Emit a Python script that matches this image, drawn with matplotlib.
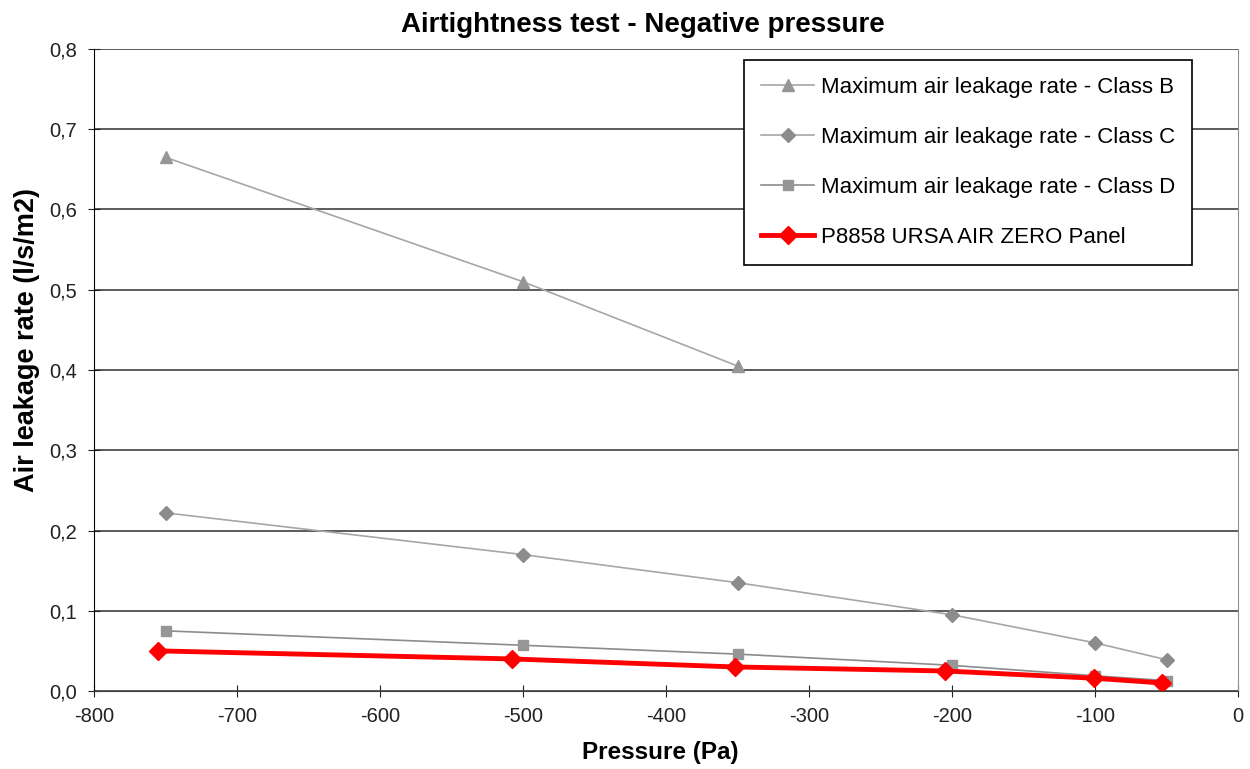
import matplotlib
matplotlib.use('Agg')
import matplotlib.pyplot as plt

plt.rcParams['font.family'] = ['Liberation Sans', 'DejaVu Sans']
plt.rcParams['axes.unicode_minus'] = False

# pressure (Pa) and leakage (l/s/m2)
p_class_b = [-750, -500, -350]
class_b = [0.665, 0.510, 0.405]
p_class = [-750, -500, -350, -200, -100, -50]
class_c = [0.222, 0.170, 0.135, 0.095, 0.060, 0.039]
class_d = [0.075, 0.057, 0.046, 0.032, 0.019, 0.013]
p_panel = [-755, -508, -352, -205, -101, -53]
panel = [0.050, 0.040, 0.030, 0.025, 0.016, 0.010]

fig = plt.figure(figsize=(12.5, 7.69), dpi=100)
ax = fig.add_axes([0.0752, 0.1014, 0.9152, 0.8349])

ax.plot(p_class_b, class_b, color='#a6a6a6', lw=1.2, marker='^', ms=9,
        mfc='#969696', mec='#969696', label='Maximum air leakage rate - Class B')
ax.plot(p_class, class_c, color='#a6a6a6', lw=1.2, marker='D', ms=7,
        mfc='#8c8c8c', mec='#8c8c8c', label='Maximum air leakage rate - Class C')
ax.plot(p_class, class_d, color='#8c8c8c', lw=1.2, marker='s', ms=7.5,
        mfc='#969696', mec='#969696', label='Maximum air leakage rate - Class D')
ax.plot(p_panel, panel, color='#ff0000', lw=3.5, marker='D', ms=9,
        label='P8858 URSA AIR ZERO Panel')

ax.set_xlim(-800, 0)
ax.set_ylim(0, 0.8)
ax.set_xticks(range(-800, 1, 100))
ax.set_yticks([i / 10 for i in range(9)])
ax.set_yticklabels([f'{i / 10:.1f}'.replace('.', ',') for i in range(9)])
ax.grid(axis='y', color='#404040', lw=1.2)
ax.set_axisbelow(True)

ax.spines['top'].set_visible(False)
ax.spines['left'].set_color('black')
ax.spines['bottom'].set_color('#404040')
ax.spines['right'].set_color('#909090')
ax.tick_params(direction='inout', length=9, labelsize=14.5, colors='#222222')
ax.tick_params(axis='y', pad=8)
ax.tick_params(axis='x', pad=7)

ax.set_title('Airtightness test - Negative pressure', fontsize=20, fontweight='bold',
             x=0.48, pad=12)
ax.set_xlabel('Pressure (Pa)', fontsize=17.5, fontweight='bold', labelpad=11)
ax.xaxis.label.set_x(0.495)
ax.set_ylabel('Air leakage rate (l/s/m2)', fontsize=19.5, fontweight='bold')
ax.yaxis.set_label_coords(-0.047, 0.547)

leg = ax.legend(loc='upper right', bbox_to_anchor=(0.9598, 0.983), fontsize=16,
                frameon=True, fancybox=False, edgecolor='black', framealpha=1,
                handlelength=2.4, handletextpad=0.3, labelspacing=1.31,
                borderpad=0.75, borderaxespad=0)
leg.get_frame().set_linewidth(1.2)

fig.savefig('out.png', dpi=100)
